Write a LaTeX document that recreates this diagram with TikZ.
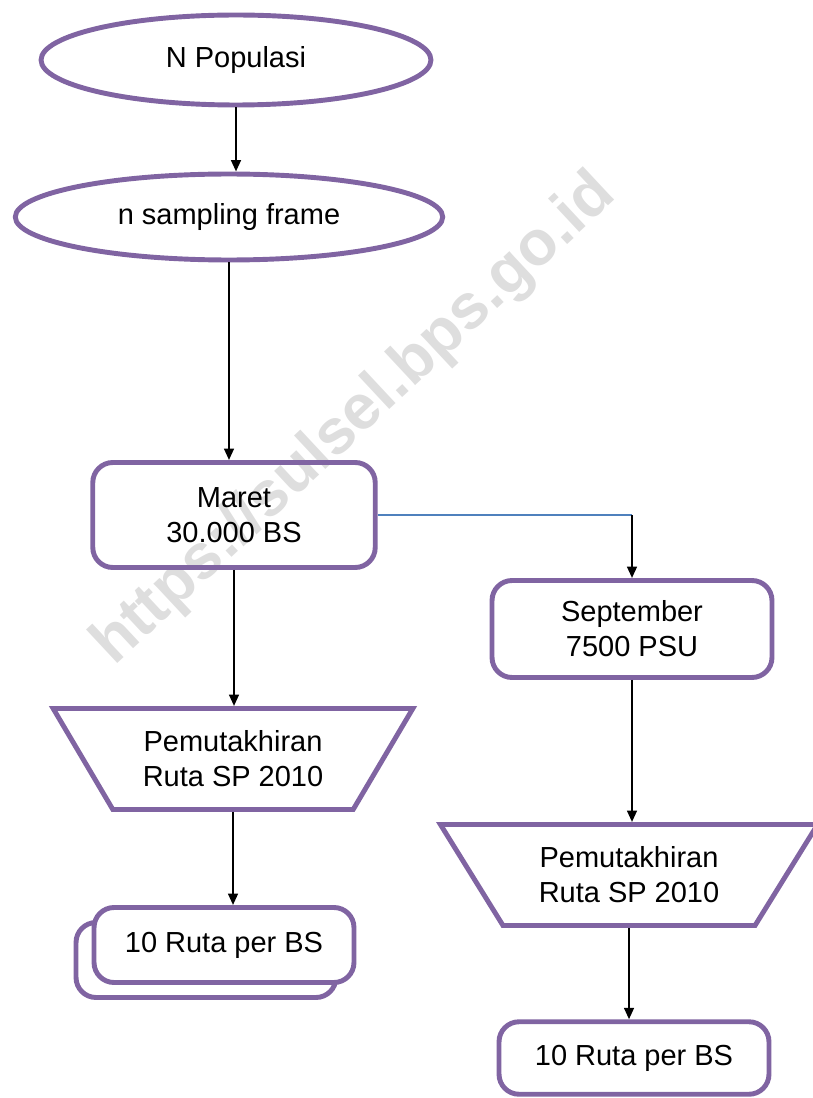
\documentclass[tikz,border=0pt]{standalone}
\usepackage{fontspec}
\setmainfont{Liberation Sans}
\usetikzlibrary{shapes.geometric,arrows.meta,shadows}
\definecolor{boxpurple}{HTML}{8064A2}
\definecolor{linkblue}{HTML}{4F81BD}
\tikzset{
  flowellipse/.style={ellipse,draw=boxpurple,line width=2.8pt,inner sep=0pt},
  flowbox/.style={rectangle,rounded corners=.4cm,draw=boxpurple,line width=2.8pt,align=center},
  flowtrap/.style={trapezium,trapezium angle=55,trapezium stretches=true,shape border rotate=180,
    draw=boxpurple,line width=2.8pt,align=center},
  flowarrow/.style={-{Triangle[length=6.5pt,width=5.5pt]},line width=1.3pt},
}
\begin{document}
\begin{tikzpicture}[x=.02cm,y=-.02cm,font=\fontsize{16.5}{20}\selectfont]
  \useasboundingbox (0,0) rectangle (812,1098);
  % watermark
  \node[rotate=43,text=black!13,font=\fontsize{36}{40}\selectfont\bfseries] (mark) at (355,420) {https://sulsel.bps.go.id};
  % left column
  \node[flowellipse,minimum width=7.8cm,minimum height=1.8cm] (popul) at (236,60) {N Populasi};
  \node[flowellipse,minimum width=8.55cm,minimum height=1.72cm] (frame) at (229,217) {n sampling frame};
  \node[flowbox,minimum width=5.65cm,minimum height=2.1cm] (maret) at (234,515) {Maret\\30.000 BS};
  \node[flowtrap,minimum width=7.2cm,minimum height=2.02cm] (trapL) at (233,759) {Pemutakhiran\\Ruta SP 2010};
  \node[flowbox,fill=white,minimum width=5.2cm,minimum height=1.5cm,
    copy shadow={shadow xshift=-.36cm,shadow yshift=-.3cm,draw=boxpurple,line width=2.8pt,fill=white}]
    (rutaL) at (224,945) {10 Ruta per BS};
  % right column
  \node[flowbox,minimum width=5.6cm,minimum height=1.94cm] (sept) at (632,629) {September\\7500 PSU};
  \node[flowtrap,minimum width=7.55cm,minimum height=2.02cm] (trapR) at (629,875) {Pemutakhiran\\Ruta SP 2010};
  \node[flowbox,minimum width=5.4cm,minimum height=1.45cm] (rutaR) at (634,1058) {10 Ruta per BS};
  % connectors
  \draw[flowarrow] (popul.south) -- (popul.south |- frame.north);
  \draw[flowarrow] (frame.south) -- (frame.south |- maret.north);
  \draw[flowarrow] (maret.south) -- (maret.south |- trapL.north);
  \draw[flowarrow] (trapL.south) -- (trapL.south |- rutaL.north);
  \draw[linkblue,line width=.9pt] (maret.east) -- (maret.east -| sept.north) coordinate (turn);
  \draw[flowarrow] (turn) -- (sept.north);
  \draw[flowarrow] (sept.south) -- (sept.south |- trapR.north);
  \draw[flowarrow] (trapR.south) -- (trapR.south |- rutaR.north);
\end{tikzpicture}
\end{document}
